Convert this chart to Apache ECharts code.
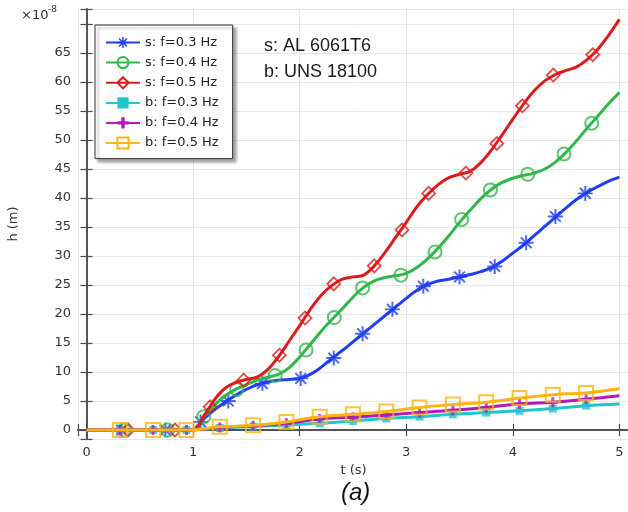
<!DOCTYPE html>
<html><head><meta charset="utf-8">
<script src="https://cdn.jsdelivr.net/npm/echarts@6/dist/echarts.min.js"></script>
<style>html,body{margin:0;padding:0;background:#fff}#c{width:628px;height:512px}</style>
</head><body><div id="c"></div><script>
// ---- data (h in units of 1e-8 m, t in s) ----
const sTime = [0,0.9,1.0,1.1,1.2,1.3,1.4,1.5,1.6,1.7,1.8,1.9,2.0,2.1,2.2,2.3,2.4,2.5,2.6,2.7,2.8,2.9,3.0,3.1,3.2,3.3,3.4,3.5,3.6,3.7,3.8,3.9,4.0,4.1,4.2,4.3,4.4,4.5,4.6,4.7,4.8,4.9,5.0];
const hS03 = [0,0,0,1.9,3.5,4.8,6.0,7.0,7.8,8.3,8.6,8.7,8.9,9.6,10.8,12.3,13.7,15.2,16.7,18.2,19.7,21.2,22.7,24.1,25.1,25.7,26.0,26.4,26.8,27.3,28.0,29.1,30.5,31.9,33.5,35.1,36.7,38.3,39.8,41.0,42.0,42.9,43.6];
const hS04 = [0,0,0,2.3,4.3,5.9,7.0,7.8,8.6,9.1,9.6,10.7,12.6,14.8,17.0,19.0,20.9,22.9,24.6,25.7,26.3,26.6,27.0,28.0,29.5,31.4,33.5,35.8,37.9,39.9,41.5,42.7,43.4,43.9,44.3,45.0,46.2,47.9,49.9,52.1,54.2,56.3,58.2];
const hS05 = [0,0,0,2.4,5.2,7.2,8.2,8.7,9.1,10.4,12.6,15.3,18.0,20.8,23.2,24.9,26.0,26.4,26.7,28.3,30.6,33.2,35.8,38.5,40.6,42.3,43.5,44.1,44.6,46.1,48.3,50.9,53.6,56.2,58.5,60.2,61.3,62.0,62.6,63.9,65.7,68.1,70.8];

const markT03 = [0.33,0.74,1.07,1.33,1.65,2.01,2.32,2.59,2.87,3.16,3.5,3.83,4.125,4.4,4.68];
const markH03 = [0,0,1.4,5.0,8.0,8.9,12.4,16.6,20.8,24.8,26.4,28.2,32.3,36.8,40.8];
const markT04 = [0.35,0.76,1.10,1.41,1.77,2.06,2.325,2.59,2.95,3.27,3.52,3.79,4.14,4.48,4.74];
const markH04 = [0,0,2.3,7.0,9.4,13.8,19.4,24.5,26.7,30.7,36.3,41.4,44.1,47.6,52.9];
const markT05 = [0.39,0.83,1.16,1.475,1.81,2.05,2.32,2.70,2.96,3.21,3.56,3.85,4.09,4.38,4.75];
const markH05 = [0,0,4.0,8.6,12.9,19.3,25.2,28.3,34.5,40.8,44.3,49.4,55.9,61.2,64.7];

const bTime = [0,0.3125,0.625,0.9375,1.25,1.5625,1.875,2.1875,2.5,2.8125,3.125,3.4375,3.75,4.0625,4.375,4.6875,5.0];
const hB03 = [0,0,0,0,0.35,0.6,0.85,1.15,1.55,2.0,2.3,2.7,3.0,3.3,3.7,4.2,4.5];
const hB04 = [0,0,0,0,0.45,0.75,1.15,1.9,2.2,2.6,3.0,3.4,3.9,4.5,4.8,5.3,5.9];
const hB05 = [0,0,0,0,0.55,0.8,1.4,2.3,2.7,3.2,3.9,4.4,4.8,5.5,6.1,6.4,7.1];

const seriesNames = ['s: f=0.3 Hz','s: f=0.4 Hz','s: f=0.5 Hz','b: f=0.3 Hz','b: f=0.4 Hz','b: f=0.5 Hz'];
const xTicks = [0,1,2,3,4,5];
const yTicks = [0,5,10,15,20,25,30,35,40,45,50,55,60,65];

// ---- styles ----
const ASTER = 'path://M8.7 0L11.3 0L11.3 20L8.7 20Z M0 8.7L20 8.7L20 11.3L0 11.3Z M3.82 1.98L18.02 16.18L16.18 18.02L1.98 3.82Z M16.18 1.98L18.02 3.82L3.82 18.02L1.98 16.18Z';
const PLUS = 'path://M7 0L13 0L13 7L20 7L20 13L13 13L13 20L7 20L7 13L0 13L0 7L7 7Z';
const styles = [
  {color:'#1f3ff2', symbol:ASTER, size:15, item:{color:'#1f3ff2'}},
  {color:'#2fb84a', symbol:'circle', size:13, item:{color:'rgba(0,0,0,0)', borderColor:'#2fb84a', borderWidth:2}},
  {color:'#dc1c1c', symbol:'diamond', size:13, item:{color:'rgba(0,0,0,0)', borderColor:'#dc1c1c', borderWidth:1.8}},
  {color:'#20c6cc', symbol:'rect', size:8, item:{color:'#20c6cc'}},
  {color:'#b11bb6', symbol:PLUS, size:10, item:{color:'#b11bb6'}},
  {color:'#fbb410', symbol:'rect', size:14, item:{color:'rgba(0,0,0,0)', borderColor:'#fbb410', borderWidth:2}}
];

function pairs(t, v){ return t.map((x,i)=>[x, v[i]]); }
const curves = [pairs(sTime,hS03), pairs(sTime,hS04), pairs(sTime,hS05), pairs(bTime,hB03), pairs(bTime,hB04), pairs(bTime,hB05)];
const marks = [pairs(markT03,markH03), pairs(markT04,markH04), pairs(markT05,markH05),
  pairs(bTime,hB03).slice(1,16), pairs(bTime,hB04).slice(1,16), pairs(bTime,hB05).slice(1,16)];

const series = [];
seriesNames.forEach((n,i)=>{
  const s = styles[i];
  series.push({name:n, type:'line', data:curves[i], smooth:0.4, showSymbol:false,
    symbol:s.symbol, symbolSize:s.size, lineStyle:{color:s.color, width:3},
    itemStyle:s.item, z:2+i, silent:true});
});
seriesNames.forEach((n,i)=>{
  const s = styles[i];
  series.push({name:n, type:'scatter', data:marks[i], symbol:s.symbol, symbolSize:s.size,
    itemStyle:s.item, z:2+i, silent:true});
});

const FONT = 'DejaVu Sans';
const frame = {show:true, lineStyle:{color:'#4a4a4a', width:1.5}};
const tick = {show:true, inside:true, length:6, lineStyle:{color:'#4a4a4a', width:1.2}};
const near = (v,arr)=>arr.some(a=>Math.abs(a-v)<1e-6);

const chart = echarts.init(document.getElementById('c'), null, {renderer:'canvas'});
chart.setOption({
  animation:false,
  backgroundColor:'#fff',
  grid:{left:78, right:-1, top:9, bottom:73, outerBoundsMode:'none', containLabel:false},
  xAxis:[{type:'value', position:'bottom', min:-0.08, max:5.09, splitNumber:5,
     axisLine:frame, axisTick:tick,
     axisLabel:{fontFamily:FONT, fontSize:13, color:'#333', margin:7,
       formatter:v=>near(v,xTicks)?String(Math.round(v)):''},
     splitLine:{show:true, lineStyle:{color:'#e6e6e6', width:1}},
     name:'t (s)', nameLocation:'middle', nameGap:24,
     nameTextStyle:{fontFamily:FONT, fontSize:13, color:'#333'}},
    {type:'value', position:'top', min:-0.08, max:5.09, splitNumber:5,
     axisLine:frame, axisTick:tick, axisLabel:{show:false}, splitLine:{show:false}}],
  yAxis:[{type:'value', position:'left', min:-1.55, max:72.59, splitNumber:14,
     axisLine:frame, axisTick:tick,
     axisLabel:{fontFamily:FONT, fontSize:13, color:'#333', margin:7,
       formatter:v=>near(v,yTicks)?String(Math.round(v)):''},
     splitLine:{show:true, lineStyle:{color:'#e6e6e6', width:1}},
     name:'h (m)', nameLocation:'middle', nameGap:58,
     nameTextStyle:{fontFamily:FONT, fontSize:13, color:'#333'}},
    {type:'value', position:'right', min:-1.55, max:72.59, splitNumber:14,
     axisLine:frame, axisTick:tick, axisLabel:{show:false}, splitLine:{show:false}}],
  legend:{data:seriesNames, orient:'vertical', left:95, top:25,
    padding:[11,14,9,10], itemWidth:34, itemHeight:14, itemGap:7,
    backgroundColor:'#fff', borderColor:'#333', borderWidth:1,
    shadowColor:'rgba(0,0,0,0.35)', shadowBlur:3, shadowOffsetX:3, shadowOffsetY:3,
    selectedMode:false,
    textStyle:{fontFamily:FONT, fontSize:13, color:'#222'}},
  graphic:[
    {type:'text', z:100, left:21, top:9, style:{text:'×10', font:'13px "DejaVu Sans"', fill:'#333'}},
    {type:'text', z:100, left:48, top:5, style:{text:'-8', font:'9px "DejaVu Sans"', fill:'#333'}},
    {type:'text', z:100, left:264, top:37, style:{text:'s: AL 6061T6', font:'18px "Liberation Sans"', fill:'#1a1a1a'}},
    {type:'text', z:100, left:264, top:63, style:{text:'b: UNS 18100', font:'18px "Liberation Sans"', fill:'#1a1a1a'}},
    {type:'text', z:100, left:341, top:481, style:{text:'(a)', font:'italic 24px "Liberation Sans"', fill:'#111'}}
  ],
  series:series
});
</script></body></html>
